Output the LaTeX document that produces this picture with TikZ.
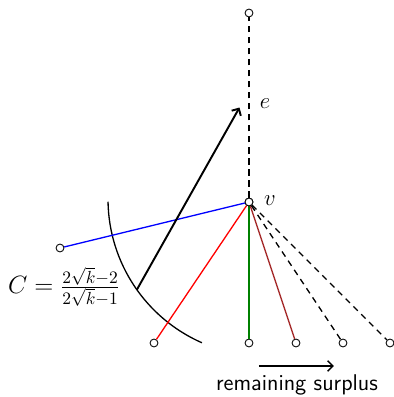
\documentclass[tikz,border=0pt]{standalone}
\usepackage{fix-cm}
\usetikzlibrary{arrows.meta,calc}
\definecolor{mybrown}{RGB}{165,42,42}
\definecolor{mygreen}{RGB}{0,128,0}
\begin{document}
\begin{tikzpicture}[x=0.5714pt,y=0.5714pt,
  font=\fontsize{13}{16}\selectfont,
  pt/.style={circle,draw,fill=white,inner sep=0pt,minimum size=4.5pt,line width=0.5pt},
  edge/.style={line width=0.75pt},
  dedge/.style={line width=0.75pt,dash pattern=on 3.5pt off 2.8pt},
  bigarrow/.style={line width=1.1pt,-{Straight Barb[length=3pt,width=6pt]}}]
\useasboundingbox (0,0) rectangle (394,397);
\node[pt] (v) at (249,195) {};
\node[pt] (top) at (249,384) {};
\node[pt] (l) at (60,149) {};
\node[pt] (b1) at (154,54) {};
\node[pt] (b2) at (249,54) {};
\node[pt] (b3) at (296,54) {};
\node[pt] (b4) at (343,54) {};
\node[pt] (b5) at (390,54) {};
\coordinate (ac) at (265,198);
\draw[edge] ($(ac)+(181:89.71pt)$) arc[start angle=181,end angle=246.3,radius=89.71pt];
\draw[dedge] (v) -- (top);
\draw[edge,blue] (v) -- (l);
\draw[edge,red] (v) -- (b1);
\draw[edge,mygreen] (v) -- (b2);
\draw[edge,mybrown] (v) -- (b3);
\draw[dedge] (v) -- (b4);
\draw[dedge] (v) -- (b5);
\node[pt] at (v) {};
\coordinate (as) at (136.7,107);
\coordinate (ae) at (239.5,289.5);
\draw[bigarrow] (as) -- (ae);
\node (el) at (265,293) {$e$};
\node (vl) at (270,196) {$v$};
\node[font=\fontsize{14.3}{17}\selectfont] (cl) at (64,110) {$C=\frac{2\sqrt{k}-2}{2\sqrt{k}-1}$};
\coordinate (rs) at (259,31);
\coordinate (re) at (334,31);
\draw[line width=0.9pt,-{Straight Barb[length=3pt,width=6pt]}] (rs) -- (re);
\node[font=\fontsize{13}{16}\sffamily] (rl) at (297,12) {remaining surplus};
\end{tikzpicture}
\end{document}
